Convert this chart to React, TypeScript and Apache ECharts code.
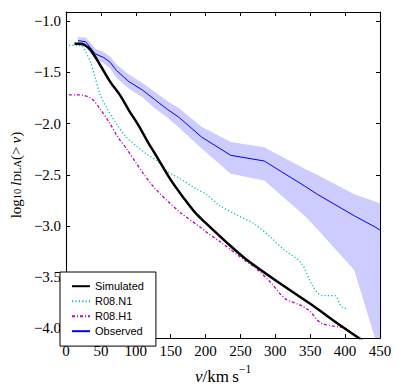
import React, { useEffect, useRef } from "react";
import * as echarts from "echarts";

// ---- data ----
const simV = [12, 20, 26, 35, 49, 63, 77, 90, 104, 118, 128, 150, 170, 185, 200, 230, 257, 300, 350, 395, 425];
const simY = [-1.22, -1.22, -1.23, -1.28, -1.43, -1.59, -1.72, -1.87, -2.02, -2.19, -2.30, -2.55, -2.74, -2.87, -2.97, -3.16, -3.32, -3.53, -3.76, -3.98, -4.12];

const n1V = [4, 15, 24, 31, 35, 42, 49, 58, 72, 86, 100, 116, 132, 146, 164, 187, 201, 220, 247, 270, 293, 312, 337, 353, 367, 385, 395, 405];
const n1Y = [-1.235, -1.235, -1.25, -1.34, -1.40, -1.56, -1.72, -1.845, -2.0, -2.13, -2.215, -2.30, -2.37, -2.47, -2.54, -2.64, -2.69, -2.80, -2.90, -2.98, -3.11, -3.23, -3.36, -3.58, -3.68, -3.68, -3.79, -3.81];

const h1V = [4, 15, 26, 38, 49, 63, 74, 86, 100, 111, 127, 146, 164, 192, 201, 220, 257, 270, 293, 314, 335, 349, 366, 397];
const h1Y = [-1.72, -1.72, -1.725, -1.765, -1.86, -2.0, -2.13, -2.24, -2.38, -2.49, -2.63, -2.76, -2.87, -3.01, -3.06, -3.15, -3.34, -3.40, -3.55, -3.71, -3.77, -3.83, -3.95, -3.99];

const obsV = [17, 28, 35, 42, 54, 63, 72, 90, 109, 127, 145, 162, 194, 236, 284, 342, 360, 413, 443, 450];
const obsY = [-1.19, -1.2, -1.26, -1.32, -1.355, -1.4, -1.48, -1.59, -1.67, -1.765, -1.86, -1.94, -2.13, -2.31, -2.365, -2.61, -2.69, -2.9, -3.01, -3.04];
const obsHi = [-1.155, -1.16, -1.21, -1.27, -1.30, -1.345, -1.42, -1.52, -1.60, -1.69, -1.78, -1.85, -2.03, -2.18, -2.23, -2.44, -2.50, -2.69, -2.76, -2.78];
const obsLo = [-1.24, -1.25, -1.31, -1.37, -1.41, -1.46, -1.55, -1.66, -1.74, -1.85, -1.94, -2.04, -2.24, -2.49, -2.555, -2.90, -3.03, -3.43, -4.1, -4.25];

const yTicks = [-4.0, -3.5, -3.0, -2.5, -2.0, -1.5, -1.0];
const legendNames = ["Simulated", "R08.N1", "R08.H1", "Observed"];

const zip = (a: number[], b: number[]) => a.map((v, i) => [v, b[i]]);

const SERIF = "Liberation Serif";
const SANS = "Liberation Sans";

export default function App() {
  const ref = useRef<HTMLDivElement>(null);
  useEffect(() => {
    if (!ref.current) return;
    const chart = echarts.init(ref.current, undefined, { renderer: "svg" });
    const axisLine = { show: true, onZero: false, lineStyle: { color: "#000", width: 1.1 } };
    const tickStyle = { color: "#000", width: 1 };
    const fmtY = (v: number) => (v < 0 ? "\u2212" : "") + Math.abs(v).toFixed(1);
    const labelStyle = { fontFamily: SERIF, fontSize: 15, color: "#000" };
    const richX = {
      n: { fontFamily: SERIF, fontSize: 17, color: "#000", lineHeight: 22, verticalAlign: "bottom" },
      i: { fontFamily: SERIF, fontSize: 17, fontStyle: "italic", color: "#000", lineHeight: 22, verticalAlign: "bottom" },
      sup: { fontFamily: SERIF, fontSize: 11.5, color: "#000", lineHeight: 12, verticalAlign: "top" },
    };
    const richY = {
      n: { fontFamily: SERIF, fontSize: 15, color: "#000", lineHeight: 19, verticalAlign: "bottom" },
      i: { fontFamily: SERIF, fontSize: 15, fontStyle: "italic", color: "#000", lineHeight: 19, verticalAlign: "bottom" },
      sub: { fontFamily: SERIF, fontSize: 10.5, color: "#000", lineHeight: 13, verticalAlign: "bottom" },
    };
    const option: any = {
      animation: false,
      backgroundColor: "#fff",
      textStyle: { fontFamily: SERIF },
      grid: { left: 54.5, right: 19, top: 12, bottom: 43, containLabel: false },
      legend: {
        data: legendNames,
        orient: "vertical",
        left: 60,
        top: 272,
        padding: [8.7, 12, 9.4, 11],
        itemWidth: 18,
        itemHeight: 12,
        itemGap: 4,
        borderColor: "#000",
        borderWidth: 1,
        borderRadius: 0,
        backgroundColor: "#fff",
        itemStyle: { opacity: 0 },
        textStyle: { fontFamily: SANS, fontSize: 11, color: "#000" },
        z: 10,
      },
      xAxis: [
        {
          type: "value",
          min: 0,
          max: 450,
          interval: 50,
          position: "bottom",
          axisLine,
          axisTick: { inside: true, length: 4, lineStyle: tickStyle },
          axisLabel: { ...labelStyle, margin: 5, formatter: (v: number) => String(v) },
          splitLine: { show: false },
          name: "{i|v}{n|/km\u2009s}{sup|\u22121}",
          nameLocation: "middle",
          nameGap: 17,
          nameTextStyle: { rich: richX },
        },
        {
          type: "value",
          min: 0,
          max: 450,
          interval: 50,
          position: "top",
          axisLine,
          axisTick: { inside: true, length: 4, lineStyle: tickStyle },
          axisLabel: { show: false },
          splitLine: { show: false },
        },
      ],
      yAxis: [
        {
          type: "value",
          min: -4.095,
          max: -0.91,
          position: "left",
          axisLine,
          axisTick: { inside: true, length: 4, lineStyle: tickStyle, customValues: yTicks },
          axisLabel: { ...labelStyle, margin: 5, customValues: yTicks, formatter: fmtY },
          splitLine: { show: false },
          name: "{n|log}{sub|10}{i|\u2009l}{sub|DLA}{n|(>\u2009}{i|v}{n|)}",
          nameLocation: "middle",
          nameRotate: 90,
          nameGap: 32,
          nameTextStyle: { rich: richY },
        },
        {
          type: "value",
          min: -4.095,
          max: -0.91,
          position: "right",
          axisLine,
          axisTick: { inside: true, length: 4, lineStyle: tickStyle, customValues: yTicks },
          axisLabel: { show: false, customValues: yTicks },
          splitLine: { show: false },
        },
      ],
      series: [
        {
          name: "band",
          type: "custom",
          coordinateSystem: "cartesian2d",
          clip: true,
          silent: true,
          z: 1,
          data: [[obsV[0], obsHi[0]]],
          renderItem: (_params: any, api: any) => {
            const pts: number[][] = [];
            for (let i = 0; i < obsV.length; i++) pts.push(api.coord([obsV[i], obsHi[i]]));
            for (let i = obsV.length - 1; i >= 0; i--) pts.push(api.coord([obsV[i], obsLo[i]]));
            return {
              type: "polygon",
              shape: { points: pts },
              style: { fill: "#ccccff", stroke: "none" },
            };
          },
        },
        {
          name: "Observed",
          type: "line",
          data: zip(obsV, obsY),
          symbol: "none",
          color: "#0000ff",
          lineStyle: { color: "#0000ff", width: 1 },
          z: 3,
        },
        {
          name: "R08.N1",
          type: "line",
          data: zip(n1V, n1Y),
          symbol: "none",
          smooth: 0.3,
          color: "#00bfbf",
          lineStyle: { color: "#00bfbf", width: 1.3, type: [1.2, 2.2] },
          z: 3,
        },
        {
          name: "R08.H1",
          type: "line",
          data: zip(h1V, h1Y),
          symbol: "none",
          smooth: 0.3,
          color: "#bf00bf",
          lineStyle: { color: "#bf00bf", width: 1.3, type: [3, 2, 1, 2] },
          z: 3,
        },
        {
          name: "Simulated",
          type: "line",
          data: zip(simV, simY),
          symbol: "none",
          smooth: 0.3,
          color: "#000",
          lineStyle: { color: "#000", width: 2.5 },
          z: 4,
        },
      ],
    };
    chart.setOption(option);
    return () => chart.dispose();
  }, []);
  return (
    <div
      ref={ref}
      style={{ position: "fixed", left: 0, top: 0, width: 399, height: 390, background: "#fff" }}
    />
  );
}
